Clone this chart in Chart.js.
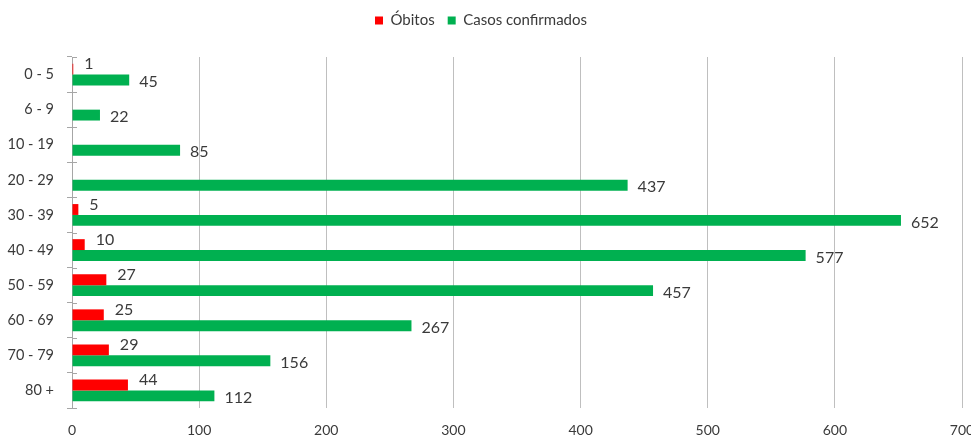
<!DOCTYPE html>
<html><head><meta charset="utf-8">
<script src="https://cdn.jsdelivr.net/npm/chart.js@4.4.0/dist/chart.umd.min.js"></script>
<style>html,body{margin:0;padding:0;overflow:hidden;background:#fff;width:971px;height:441px}</style>
</head><body>
<canvas id="c" width="980" height="441" style="display:block;width:980px;height:441px"></canvas>
<script>
const categories = ['0 - 5','6 - 9','10 - 19','20 - 29','30 - 39','40 - 49','50 - 59','60 - 69','70 - 79','80 +'];
const obitos = [1, null, null, null, 5, 10, 27, 25, 29, 44];
const casos = [45, 22, 85, 437, 652, 577, 457, 267, 156, 112];
const xTicks = [0, 100, 200, 300, 400, 500, 600, 700];

const TEXT = '#3a3a3a';
const FONT = 'Lato';

const valueLabels = {
  id: 'valueLabels',
  afterDatasetsDraw(chart) {
    const ctx = chart.ctx;
    ctx.save();
    ctx.font = '16px ' + FONT;
    ctx.fillStyle = TEXT;
    ctx.textAlign = 'left';
    ctx.textBaseline = 'middle';
    chart.data.datasets.forEach((ds, di) => {
      const meta = chart.getDatasetMeta(di);
      const dx = di === 0 ? 11 : 10;
      const dy = di === 0 ? -5 : 2;
      meta.data.forEach((el, i) => {
        const v = ds.data[i];
        if (v === null || v === undefined) return;
        ctx.fillText(String(v), el.x + dx, el.y + dy);
      });
    });
    ctx.restore();
  }
};

const crossTicks = {
  id: 'crossTicks',
  beforeDatasetsDraw(chart) {
    const y = chart.scales.y;
    const ctx = chart.ctx;
    const n = chart.data.labels.length;
    const step = (y.bottom - y.top) / n;
    ctx.save();
    ctx.strokeStyle = '#a6a6a6';
    ctx.lineWidth = 1;
    ctx.beginPath();
    for (let i = 0; i <= n; i++) {
      const py = Math.round(y.top + i * step) + 0.5;
      ctx.moveTo(y.right, py);
      ctx.lineTo(y.right + 5, py);
    }
    ctx.stroke();
    ctx.restore();
  }
};

const legendGap = {
  id: 'legendGap',
  beforeUpdate(chart) {
    const lg = chart.legend;
    if (lg && !lg.__gapPatched) {
      const fit = lg.fit;
      lg.fit = function () { fit.apply(this, arguments); this.height += 19; };
      lg.__gapPatched = true;
    }
  }
};

new Chart(document.getElementById('c'), {
  type: 'bar',
  data: {
    labels: categories,
    datasets: [
      { label: 'Óbitos', data: obitos, backgroundColor: '#ff0000', borderWidth: 0 },
      { label: 'Casos confirmados', data: casos, backgroundColor: '#00b050', borderWidth: 0 }
    ]
  },
  options: {
    indexAxis: 'y',
    responsive: false,
    animation: false,
    devicePixelRatio: 1,
    categoryPercentage: 0.62,
    barPercentage: 1,
    layout: { padding: { left: 0, right: 18, top: 0, bottom: 0 } },
    plugins: {
      legend: {
        position: 'top',
        labels: {
          boxWidth: 8, boxHeight: 8, padding: 13,
          color: TEXT,
          font: { family: FONT, size: 15 }
        }
      },
      tooltip: { enabled: false }
    },
    scales: {
      x: {
        min: 0, max: 700,
        afterBuildTicks: s => { s.ticks = xTicks.map(v => ({ value: v })); },
        afterFit: s => { s.height = 33; s.paddingRight = 0; s.paddingLeft = 0; },
        grid: { color: '#bfbfbf', drawTicks: false, lineWidth: 1 },
        border: { display: false },
        ticks: { color: TEXT, font: { family: FONT, size: 14 }, padding: 14 }
      },
      y: {
        afterFit: s => { s.width = 72; },
        grid: { offset: true, drawOnChartArea: false, tickLength: 5, color: '#a6a6a6' },
        border: { display: true, color: '#a6a6a6' },
        ticks: { color: TEXT, font: { family: FONT, size: 14.5 }, padding: 13 }
      }
    }
  },
  plugins: [valueLabels, crossTicks, legendGap]
});
</script>
</body></html>
